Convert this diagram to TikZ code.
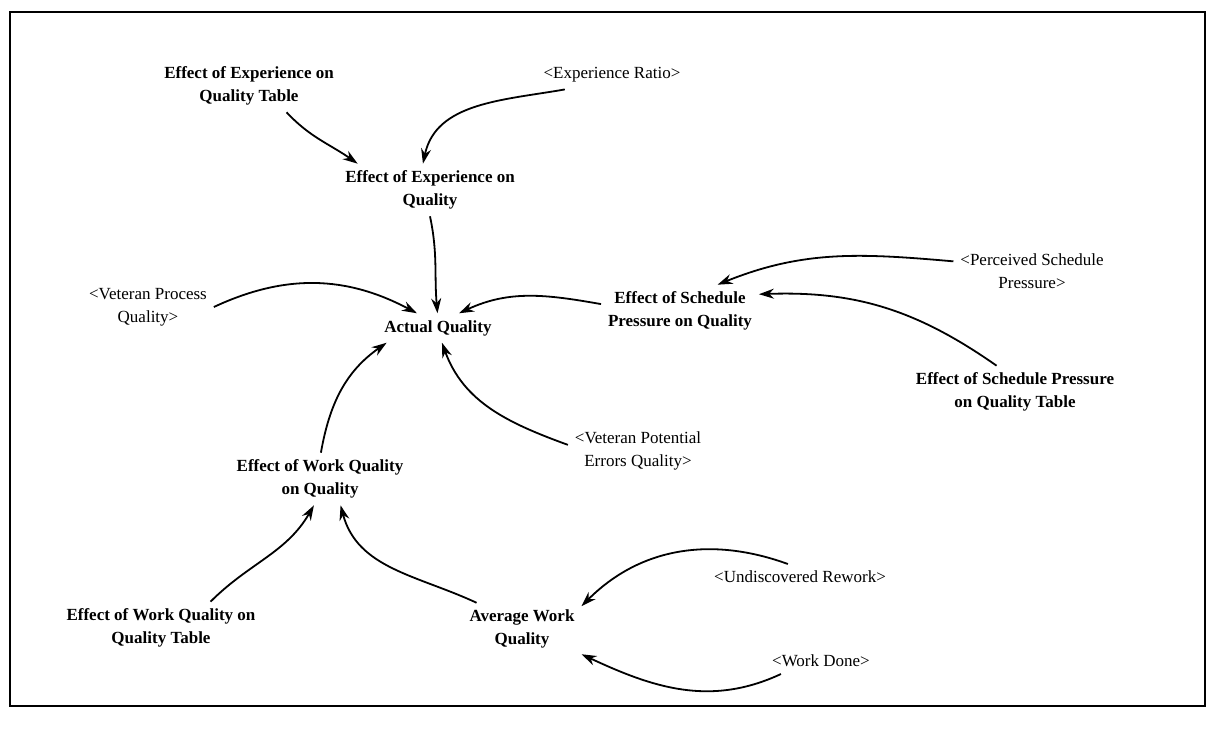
\documentclass[tikz,border=0pt]{standalone}
\usepackage{fontspec}
\setmainfont{Liberation Serif}
\usetikzlibrary{arrows.meta}

\begin{document}
\begin{tikzpicture}[x=1pt,y=1pt,
    VAR/.style={font={\bfseries\fontsize{17}{23}\selectfont},align=center,inner sep=3pt,outer sep=4pt},
    SHD/.style={font={\fontsize{17}{23}\selectfont},align=center,inner sep=3pt,outer sep=4pt},
    AR/.style={-{Stealth[length=15pt,width=10pt]},line width=1.8pt}]
    \useasboundingbox (0,0) rectangle (1207,-738);
    % frame round the view
    \draw[line width=2.2pt] (10,-12) rectangle (1205,-706);
    % top row
    \node[VAR] (eoetab) at (249,-86) {Effect of Experience on\\Quality Table};
    \node[SHD] (ratio) at (612,-75) {<Experience Ratio>};
    \node[VAR] (eoe) at (430,-190) {Effect of Experience on\\Quality};
    % middle
    \node[SHD] (vpq) at (148,-307) {<Veteran Process\\Quality>};
    \node[VAR] (aq) at (438,-328) {Actual Quality};
    \node[VAR] (esp) at (680,-311) {Effect of Schedule\\Pressure on Quality};
    \node[SHD] (psp) at (1032,-271) {<Perceived Schedule\\Pressure>};
    \node[VAR] (esptab) at (1015,-392) {Effect of Schedule Pressure\\on Quality Table};
    \node[SHD] (vpe) at (638,-451) {<Veteran Potential\\Errors Quality>};
    % bottom
    \node[VAR] (ewq) at (320,-479) {Effect of Work Quality\\on Quality};
    \node[VAR] (ewqtab) at (161,-628) {Effect of Work Quality on\\Quality Table};
    \node[VAR] (awq) at (522,-629) {Average Work\\Quality};
    \node[SHD] (urw) at (800,-577) {<Undiscovered Rework>};
    \node[SHD] (wd) at (821,-661) {<Work Done>};
    % ARROWS
    % into the experience effect
    \draw[AR] (eoetab.-35) to[out=-47,in=145] (eoe.160);
    \draw[AR] (ratio.197) to[out=190,in=78] (eoe.105);
    % into actual quality
    \draw[AR] (eoe.-90) to[out=-78,in=95] (aq.92);
    \draw[AR] (vpq.0) to[out=25,in=152] (aq.145);
    \draw[AR] (esp.175) to[out=170,in=25] (aq.35);
    \draw[AR] (vpe.175) to[out=160,in=-70] (aq.-75);
    \draw[AR] (ewq.88) to[out=80,in=215] (aq.196);
    % into schedule pressure effect
    \draw[AR] (psp.173) to[out=175,in=22] (esp.35);
    \draw[AR] (esptab.125) to[out=145,in=2] (esp.12);
    % into work quality effect
    \draw[AR] (ewqtab.28) to[out=45,in=240] (ewq.-103);
    \draw[AR] (awq.150) to[out=155,in=-75] (ewq.-52);
    % into average work quality
    \draw[AR] (urw.133) to[out=160,in=45] (awq.21);
    \draw[AR] (wd.198) to[out=205,in=-25] (awq.-23);
\end{tikzpicture}
\end{document}
